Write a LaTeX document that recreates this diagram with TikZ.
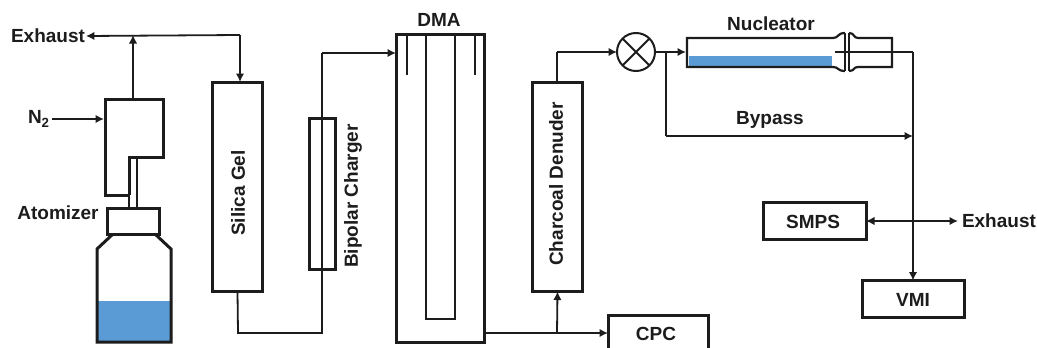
\documentclass[tikz,border=0pt]{standalone}
\usepackage{fontspec}
\setmainfont{Liberation Sans}
\usetikzlibrary{arrows.meta}
\definecolor{ink}{HTML}{1C1C1C}
\definecolor{water}{HTML}{5B9BD5}
\tikzset{
  box/.style={draw=ink,line width=3pt,fill=white,inner sep=0pt,outer sep=0pt,rectangle},
  lbl/.style={text=ink,font=\fontsize{19}{19}\selectfont\bfseries,inner sep=0pt,outer sep=1pt},
  pipe/.style={draw=ink,line width=1.8pt},
  flow/.style={pipe,-{Latex[length=8.5pt,width=8.5pt]}},
  flowboth/.style={pipe,{Latex[length=8.5pt,width=8.5pt]}-{Latex[length=8.5pt,width=8.5pt]}},
  wall/.style={draw=ink,line width=3pt,line join=miter},
  thinwall/.style={draw=ink,line width=2pt},
}
\begin{document}
\begin{tikzpicture}[x=1pt,y=-1pt]
\useasboundingbox (0,0) rectangle (1037,348);
\clip (0,0) rectangle (1037,348);
% atomizer
\fill[water] (97,301) rectangle (171,342);
\draw[wall] (113,234) -- (97,249) -- (97,342) -- (171,342) -- (171,249) -- (155,234);
\draw[thinwall] (129,157) -- (129,208) (137,157) -- (137,208);
\draw[wall] (129,195) -- (105,195) -- (105,99.5) -- (163,99.5) -- (163,157) -- (129,157) -- (129,195);
\node[box,minimum width=52pt,minimum height=26pt] (cap) at (133.5,221) {};
\coordinate (headtop) at (133,99);
\coordinate (headleft) at (104,119);
\node[lbl] (atom) at (58,213) {Atomizer};
\node[lbl,anchor=west] (n2) at (27,119) {N\textsubscript{2}};
\coordinate (n2s) at (52,119);
\node[lbl] (exh1) at (48,36) {Exhaust};
\coordinate (top) at (133,35);
\coordinate (corner) at (240,35);
\coordinate (silin) at (240,82);
% silica
\node[box,minimum width=50pt,minimum height=209pt] (silica) at (237.5,187) {};
\node[lbl,rotate=90] (silicat) at (238,193) {Silica Gel};
% bipolar
\node[box,fill=none,minimum width=26pt,minimum height=151pt] (bipolar) at (322,193.5) {};
\node[lbl,rotate=90] (bipolart) at (353,196) {Bipolar Charger};
% dma
\node[box,minimum width=88pt,minimum height=308pt] (dma) at (440.5,188.5) {};
\node[lbl] (dmat) at (439,20) {DMA};
\draw[thinwall] (407,35) -- (407,75) (475,35) -- (475,75);
\draw[thinwall] (426,35) -- (426,319) -- (455,319) -- (455,35);
% charcoal
\node[box,minimum width=50pt,minimum height=209pt] (charcoal) at (557.5,187) {};
\node[lbl,rotate=90] (charcoalt) at (556,184) {Charcoal Denuder};
% cpc
\node[box,minimum width=100pt,minimum height=50pt] (cpc) at (658,340) {};
\node[lbl] (cpct) at (656,334) {CPC};
% valve
\node[draw=ink,line width=2pt,circle,minimum size=38pt,inner sep=0pt,outer sep=0pt] (valve) at (636,52) {};
\draw[thinwall] (valve.north west) -- (valve.south east) (valve.north east) -- (valve.south west);
% nucleator
\fill[water] (689,56) rectangle (832,66);
\draw[line width=2.2pt,draw=ink] (845,33) .. controls (837,33) and (839,38) .. (833,38) -- (687,38) -- (687,67) -- (833,67) .. controls (839,67) and (837,71) .. (845,71);
\draw[line width=2.2pt,draw=ink] (849,33) .. controls (855,33) and (853,38) .. (858,38) -- (892,38) -- (892,67) -- (858,67) .. controls (853,67) and (855,71) .. (849,71);
\draw[line width=1.8pt,draw=ink] (845,33) -- (845,71) (849,33) -- (849,71);
\node[lbl] (nucl) at (771,24) {Nucleator};
\coordinate (nucin) at (686,52);
\coordinate (nucout) at (835,52);
\node[lbl] (byp) at (770,120) {Bypass};
% right boxes
\node[box,minimum width=103pt,minimum height=37pt] (smps) at (814.5,221) {};
\node[lbl] (smpst) at (813,222) {SMPS};
\node[box,minimum width=102pt,minimum height=37pt] (vmi) at (913,299) {};
\node[lbl] (vmit) at (913,300) {VMI};
\node[lbl,anchor=west] (exh2) at (961,221) {Exhaust};
% connectors
\coordinate (a1) at (238,333);
\coordinate (a2) at (322,333);
\coordinate (a3) at (322,53);
\draw[pipe] (silica.south) -- (a1) -- (a2) -- (a3);
\draw[flow] (a3) -- (396,53);
\draw[flow] (n2s) -- (headleft);
\draw[flow] (headtop) -- (top);
\draw[flow] (corner) -- (exh1.east);
\draw[flow] (corner) -- (silin);
\coordinate (d1) at (dma.east |- 0,333);
\coordinate (d2) at (557,333);
\draw[flow] (d1) -- (cpc.west |- d1);
\draw[flow] (d2) -- (charcoal.south);
\coordinate (c1) at (557,52);
\draw[pipe] (charcoal.north -| c1) -- (c1);
\draw[flow] (c1) -- (valve.west);
\draw[flow] (valve.east) -- (nucin);
\coordinate (b1) at (666,52);
\coordinate (b2) at (666,136);
\coordinate (b3) at (913,136);
\draw[pipe] (b1) -- (b2);
\draw[flow] (b2) -- (b3);
\coordinate (o1) at (913,52);
\draw[pipe] (nucout) -- (o1);
\draw[flow] (o1) -- (vmi.north);
\coordinate (s1) at (958,221);
\draw[flowboth] (smps.east) -- (s1);
\end{tikzpicture}
\end{document}
